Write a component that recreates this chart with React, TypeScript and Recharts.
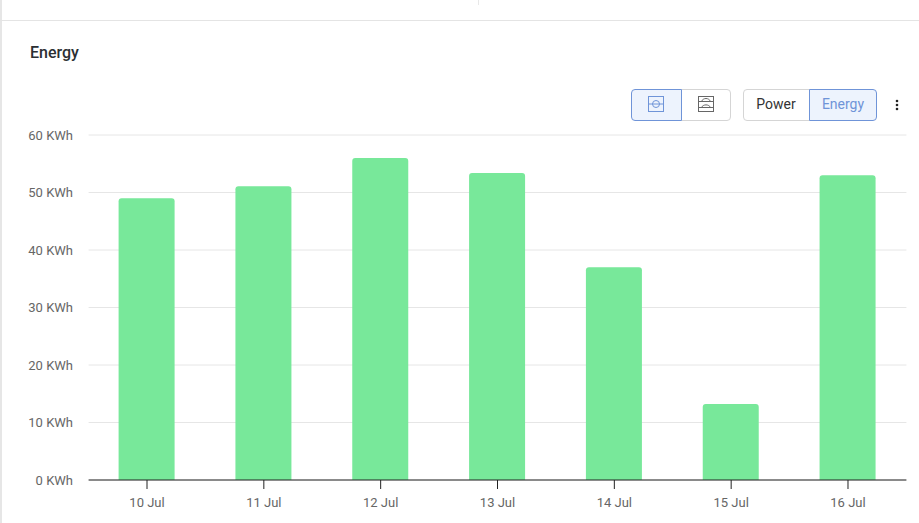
import { BarChart, Bar, XAxis, YAxis, CartesianGrid } from "recharts";

const days = ["10 Jul", "11 Jul", "12 Jul", "13 Jul", "14 Jul", "15 Jul", "16 Jul"];
const energy = [49, 51.1, 56, 53.4, 37, 13.2, 53];
const yTicks = [0, 10, 20, 30, 40, 50, 60];

const chartData = days.map((day, i) => ({ day, energy: energy[i] }));

const FONT = "Roboto, sans-serif";
const BLUE = "#6f94d8";

function Btn({ left, width, active, radius, pad, children }: any) {
  return (
    <div
      style={{
        position: "absolute",
        left,
        top: 89,
        width,
        height: 32,
        boxSizing: "border-box",
        border: `1px solid ${active ? BLUE : "#d5d5d5"}`,
        borderRadius: radius,
        background: active ? "#edf3fd" : "#fff",
        color: active ? BLUE : "#333",
        fontSize: 14,
        paddingBottom: 2,
        paddingRight: pad || 0,
        display: "flex",
        alignItems: "center",
        justifyContent: "center",
        zIndex: active ? 2 : 1,
      }}
    >
      {children}
    </div>
  );
}

function SplitIcon({ color, arcs }: { color: string; arcs?: boolean }) {
  return (
    <svg width="16" height="16" viewBox="0 0 16 16" fill="none" stroke={color} strokeWidth="1">
      <rect x="0.5" y="0.5" width="15" height="15" />
      {arcs ? (
        <>
          <path d="M0.5 5.5H15.5M0.5 11.5H15.5" />
          <path d="M3.5 5.5C5 1.5 11 1.5 12.5 5.5M3.5 11.5C5 8 11 8 12.5 11.5" />
        </>
      ) : (
        <>
          <path d="M0.5 8H15.5" />
          <circle cx="8" cy="8" r="3.5" />
        </>
      )}
    </svg>
  );
}

export default function App() {
  return (
    <div
      style={{
        position: "absolute",
        left: 0,
        top: 0,
        width: 919,
        height: 523,
        background: "#fff",
        overflow: "hidden",
        fontFamily: FONT,
      }}
    >
      <div style={{ position: "absolute", left: 0, top: 0, width: 2, height: 523, background: "#e6e6e6" }} />
      <div style={{ position: "absolute", left: 0, top: 20, width: 919, height: 1, background: "#e4e4e4" }} />
      <div style={{ position: "absolute", left: 478, top: 0, width: 1, height: 5, background: "#e8e8e8" }} />
      <div
        style={{
          position: "absolute",
          left: 30,
          top: 43,
          fontSize: 16,
          lineHeight: "19px",
          fontWeight: 500,
          color: "#2b2f33",
        }}
      >
        Energy
      </div>

      <div style={{ position: "absolute", left: 0, top: 0 }}>
        <BarChart
          width={919}
          height={523}
          data={chartData}
          margin={{ top: 135, right: 12.6, bottom: 0, left: 0 }}
        >
          <CartesianGrid horizontal vertical={false} stroke="#e6e6e6" />
          <XAxis
            dataKey="day"
            height={43}
            tickSize={9}
            tickMargin={9}
            interval={0}
            axisLine={{ stroke: "#222" }}
            tickLine={{ stroke: "#222" }}
            tick={{ fill: "#666", fontSize: 13, fontFamily: FONT }}
          />
          <YAxis
            width={88.6}
            domain={[0, 60]}
            ticks={yTicks}
            tickSize={0}
            tickMargin={15.6}
            axisLine={false}
            tickLine={false}
            tickFormatter={(v: number) => `${v} KWh`}
            tick={{ fill: "#666", fontSize: 13, fontFamily: FONT }}
          />
          <Bar
            dataKey="energy"
            fill="#78e89a"
            barSize={56}
            radius={[3, 3, 0, 0]}
            isAnimationActive={false}
          />
        </BarChart>
      </div>

      <Btn left={631} width={51} active radius="4px 0 0 4px" pad={2}>
        <SplitIcon color={BLUE} />
      </Btn>
      <Btn left={681} width={50} radius="0 4px 4px 0">
        <SplitIcon color="#666" arcs />
      </Btn>
      <Btn left={743} width={67} radius="4px 0 0 4px" pad={1}>
        Power
      </Btn>
      <Btn left={809} width={68} active radius="0 4px 4px 0">
        Energy
      </Btn>
      <svg style={{ position: "absolute", left: 893, top: 98 }} width="8" height="14" fill="#222">
        <circle cx="4" cy="3" r="1.3" />
        <circle cx="4" cy="7" r="1.3" />
        <circle cx="4" cy="11" r="1.3" />
      </svg>
    </div>
  );
}
